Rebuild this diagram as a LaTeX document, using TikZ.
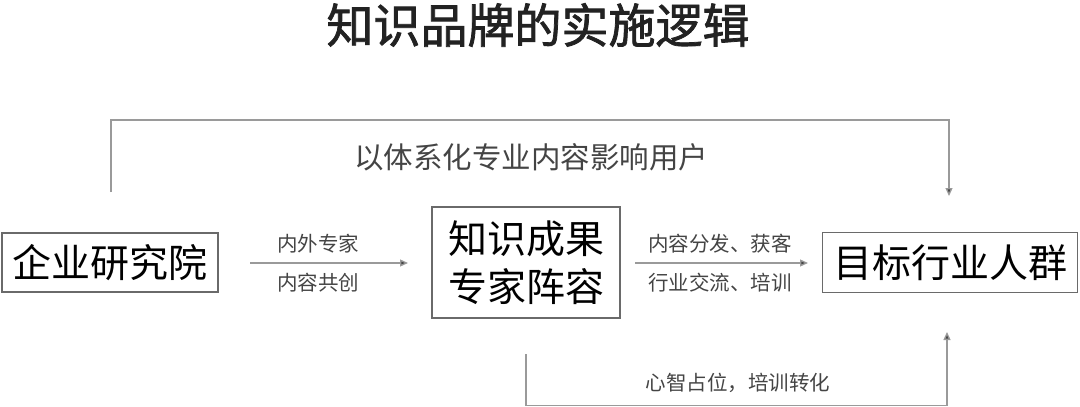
\documentclass[tikz,border=0pt]{standalone}
\usepackage{fontspec}
\setmainfont{Noto Sans CJK SC}
\newfontfamily\cjk{Noto Sans CJK SC}
\newfontfamily\titlefont[FakeBold=1.6]{Noto Sans CJK SC}
\usetikzlibrary{arrows.meta}
\definecolor{linegray}{HTML}{9A9A9A}
\definecolor{boxgray}{HTML}{6A6A6A}
\definecolor{labgray}{HTML}{444444}
\definecolor{titlegray}{HTML}{222222}
\definecolor{tipgray}{HTML}{444444}
\tikzset{
  boxnode/.style={draw=boxgray, line width=1.4pt, inner sep=0pt, text=black, font=\cjk\fontsize{39}{48}\selectfont, align=center},
  lab/.style={text=labgray, font=\cjk\fontsize{20.5}{22}\selectfont, inner sep=0pt},
  toplab/.style={text=labgray, font=\cjk\fontsize{29.5}{32}\selectfont, inner sep=0pt},
  conn/.style={draw=linegray, line width=1.3pt, -{Triangle[length=8pt,width=7pt,fill=tipgray]}},
  plain/.style={draw=linegray, line width=1.3pt}
}
\begin{document}
\begin{tikzpicture}[x=1pt,y=-1pt]
\useasboundingbox (0,0) rectangle (1080,407);
\node[text=titlegray, font=\titlefont\fontsize{47}{52}\selectfont, inner sep=0pt] (title) at (538,25) {知识品牌的实施逻辑};
% boxes
\node[boxnode, minimum width=216pt, minimum height=59pt] (b1) at (110,262.5) {企业研究院};
\node[boxnode, minimum width=188pt, minimum height=111pt] (b2) at (526,262.5) {知识成果\\专家阵容};
\node[boxnode, minimum width=255pt, minimum height=60pt] (b3) at (950,262.5) {目标行业人群};
% arrows between boxes
\coordinate (a1s) at (250,263);
\coordinate (a1e) at (408,263);
\draw[conn] (a1s) -- (a1e);
\node[lab] (l1a) at (318,244) {内外专家};
\node[lab] (l1b) at (318,283) {内容共创};
\coordinate (a2s) at (635,263);
\coordinate (a2e) at (808,263);
\draw[conn] (a2s) -- (a2e);
\node[lab] (l2a) at (720,244) {内容分发、获客};
\node[lab] (l2b) at (720,283) {行业交流、培训};
% top connector
\coordinate (t1) at (111,192);
\coordinate (t2) at (111,120);
\coordinate (t3) at (949,120);
\coordinate (t4) at (949,196);
\draw[conn] (t1) -- (t2) -- (t3) -- (t4);
\node[toplab] (tl) at (531,157) {以体系化专业内容影响用户};
% bottom connector
\coordinate (u1) at (526,354);
\coordinate (u2) at (526,405.5);
\coordinate (u3) at (947,405.5);
\coordinate (u4) at (947,332);
\draw[conn] (u1) -- (u2) -- (u3) -- (u4);
\node[lab] (ul) at (738,383) {心智占位，培训转化};
\end{tikzpicture}
\end{document}
